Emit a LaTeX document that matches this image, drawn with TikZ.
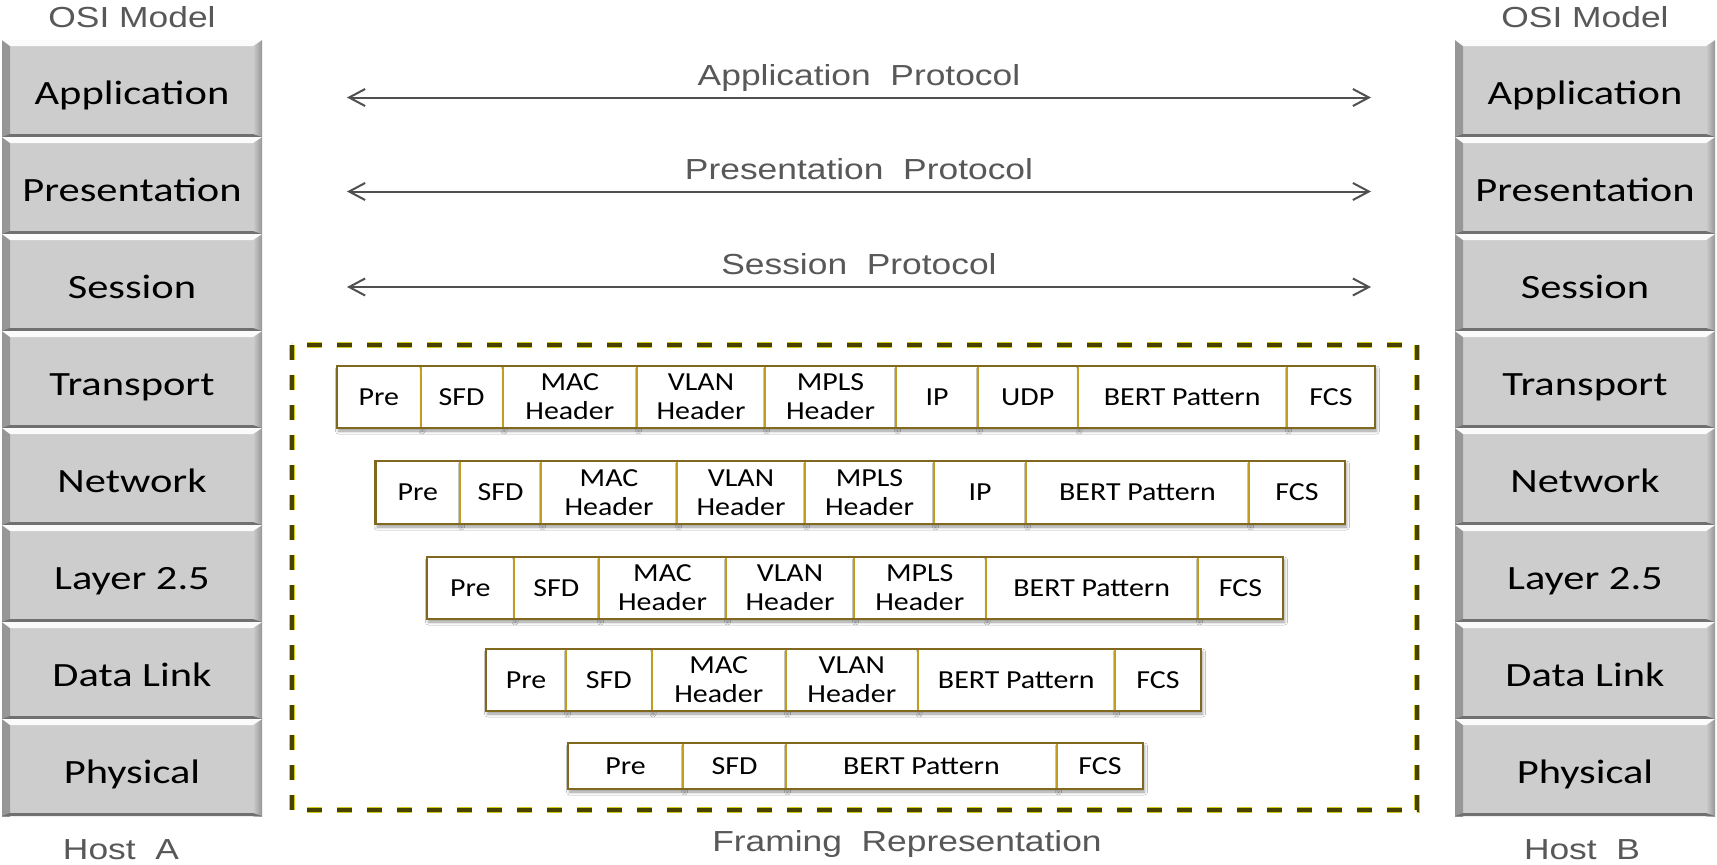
\documentclass[tikz,border=0pt]{standalone}
\usepackage{fontspec}
\usetikzlibrary{arrows.meta,shadows.blur}
\newfontfamily\layerfont[FakeStretch=1.25]{Carlito}
\newfontfamily\cellfont[FakeStretch=1.15]{Carlito}
\newfontfamily\notefont[FakeStretch=1.22]{Liberation Sans}
\definecolor{laygray}{RGB}{205,205,205}
\definecolor{laydark}{RGB}{150,150,150}
\definecolor{gold}{RGB}{196,156,36}
\definecolor{goldframe}{RGB}{128,104,30}
\definecolor{olive}{RGB}{72,66,0}
\definecolor{oliveglow}{RGB}{212,202,30}
\definecolor{notegray}{RGB}{88,88,88}
\definecolor{arrowgray}{RGB}{80,80,80}
\def\ppb{path picture bounding box}
% one row of frame fields: prefix, top edge, height, list id/left/right/text
\newcommand\framerow[4]{%
  \foreach \id/\xa/\xb/\txt in {#4} {%
    \node[cell, minimum width={(\xb-\xa)*1pt}, minimum height=#3pt] (#1\id) at (\xa,#2) {\txt};
  }%
}
\begin{document}
\begin{tikzpicture}[x=1pt,y=-1pt,
  layer/.style={minimum width=260pt, minimum height=97pt, inner sep=0pt,
    outer sep=0pt, anchor=north west, fill=laygray, text=black,
    text height=31pt, text depth=0pt,
    font=\layerfont\fontsize{34}{40}\selectfont,
    path picture={
      \shade[left color=laydark, right color=laygray]
        (\ppb.north west) rectangle ([xshift=8pt]\ppb.south west);
      \shade[left color=laygray, right color=laydark]
        ([xshift=-9pt]\ppb.north east) rectangle (\ppb.south east);
      \fill[white!92!laygray] (\ppb.north west) -- (\ppb.north east)
        -- ([xshift=-9pt,yshift=-6pt]\ppb.north east)
        -- ([xshift=8pt,yshift=-6pt]\ppb.north west) -- cycle;
      \fill[laydark!75!black] (\ppb.south west) -- (\ppb.south east)
        -- ([xshift=-9pt,yshift=3pt]\ppb.south east)
        -- ([xshift=8pt,yshift=3pt]\ppb.south west) -- cycle;
    }},
  cell/.style={draw=gold, line width=2pt, fill=white, inner sep=0pt,
    outer sep=0pt, align=center, anchor=north west,
    font=\cellfont\fontsize{26}{29}\selectfont,
    blur shadow={shadow xshift=1.5pt, shadow yshift=-3pt,
      shadow blur radius=3pt, shadow opacity=40}},
  rowframe/.style={draw=goldframe, line width=2.6pt},
  note/.style={inner sep=0pt, text=notegray,
    font=\notefont\fontsize{29}{34}\selectfont},
  proto/.style={draw=arrowgray, line width=2pt,
    {Straight Barb[length=16pt,width=17pt,line width=2pt]}-{Straight Barb[length=16pt,width=17pt,line width=2pt]}},
  dashglow/.style={draw=oliveglow, line width=5.5pt, dash pattern=on 15pt off 15pt},
  dashcore/.style={draw=olive, line width=3.5pt, dash pattern=on 15pt off 15pt}]

\fill[white] (0,0) rectangle (1717,865);
\useasboundingbox (0,0) rectangle (1717,865);

% the two OSI stacks
\foreach \i/\t in {0/Application,1/Presentation,2/Session,3/Transport,
                   4/Network,5/Layer 2.5,6/Data Link,7/Physical} {
  \node[layer] (A\i) at (2,{40+97*\i}) {\t};
  \node[layer] (B\i) at (1455,{40+97*\i}) {\t};
}
\node[note, anchor=base] (osiA) at (132,27) {OSI Model};
\node[note, anchor=base] (osiB) at (1585,27) {OSI Model};
\node[note, anchor=base] (hostA) at (121,859) {Host\ \ A};
\node[note, anchor=base] (hostB) at (1582,859) {Host\ \ B};

% peer protocols
\coordinate (apL) at (347,97.5);  \coordinate (apR) at (1371,97.5);
\coordinate (ppL) at (347,191.5); \coordinate (ppR) at (1371,191.5);
\coordinate (spL) at (347,287);   \coordinate (spR) at (1371,287);
\draw[proto] (apL) -- node[note, midway, anchor=base, yshift=12.5pt] (aplbl) {Application\ \ Protocol} (apR);
\draw[proto] (ppL) -- node[note, midway, anchor=base, yshift=12.5pt] (pplbl) {Presentation\ \ Protocol} (ppR);
\draw[proto] (spL) -- node[note, midway, anchor=base, yshift=12.5pt] (splbl) {Session\ \ Protocol} (spR);

% framing area
\coordinate (fbNW) at (292,345);
\coordinate (fbSE) at (1417,810);
\draw[dashglow] (fbNW) rectangle (fbSE);
\draw[dashcore] (fbNW) rectangle (fbSE);
\node[note, anchor=base] (frlbl) at (907,851) {Framing\ \ Representation};

\framerow{r1}{366}{62}{pre/337/420.5/Pre, sfd/420.5/502.6/SFD,
  mac/502.6/637/{MAC\\Header}, vlan/637/765/{VLAN\\Header},
  mpls/765/896/{MPLS\\Header}, ip/896/978/IP, udp/978/1077.5/UDP,
  bert/1077.5/1287/BERT Pattern, fcs/1287/1375/FCS}
\draw[rowframe] (r1pre.north west) rectangle (r1fcs.south east);

\framerow{r2}{461}{63}{pre/375.6/460/Pre, sfd/460/541/SFD,
  mac/541/677/{MAC\\Header}, vlan/677/805/{VLAN\\Header},
  mpls/805/934/{MPLS\\Header}, ip/934/1026/IP,
  bert/1026/1249/BERT Pattern, fcs/1249/1345/FCS}
\draw[rowframe] (r2pre.north west) rectangle (r2fcs.south east);

\framerow{r3}{557}{62}{pre/427/513.5/Pre, sfd/513.5/599/SFD,
  mac/599/726/{MAC\\Header}, vlan/726/854/{VLAN\\Header},
  mpls/854/985.5/{MPLS\\Header},
  bert/985.5/1198/BERT Pattern, fcs/1198/1283/FCS}
\draw[rowframe] (r3pre.north west) rectangle (r3fcs.south east);

\framerow{r4}{649}{62}{pre/486/566/Pre, sfd/566/651.5/SFD,
  mac/651.5/786/{MAC\\Header}, vlan/786/917.6/{VLAN\\Header},
  bert/917.6/1115/BERT Pattern, fcs/1115/1201/FCS}
\draw[rowframe] (r4pre.north west) rectangle (r4fcs.south east);

\framerow{r5}{743}{46}{pre/568/683/Pre, sfd/683/786/SFD,
  bert/786/1057/BERT Pattern, fcs/1057/1143/FCS}
\draw[rowframe] (r5pre.north west) rectangle (r5fcs.south east);
\end{tikzpicture}
\end{document}
